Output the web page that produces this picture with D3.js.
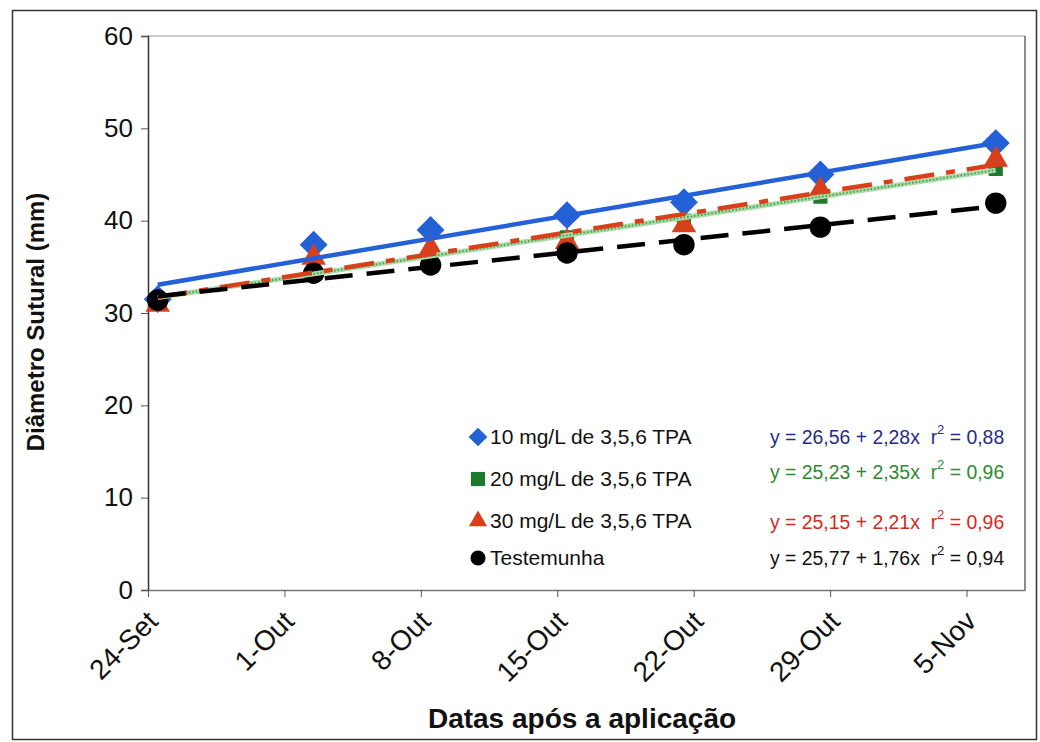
<!DOCTYPE html>
<html>
<head>
<meta charset="utf-8">
<script src="https://cdn.jsdelivr.net/npm/d3@7"></script>
<style>
  body { margin: 0; background: #fff; }
  text { font-family: "Liberation Sans", Arial, sans-serif; white-space: pre; }
</style>
</head>
<body>
<svg id="chart" width="1040" height="742"></svg>
<script>
// Dados
const nomesSeries = ["10 mg/L de 3,5,6 TPA", "20 mg/L de 3,5,6 TPA", "30 mg/L de 3,5,6 TPA", "Testemunha"];
const datasAmostra = ["2004-09-24T12:00Z", "2004-10-02T12:00Z", "2004-10-08T12:00Z", "2004-10-15T12:00Z",
                      "2004-10-21T12:00Z", "2004-10-28T12:00Z", "2004-11-06T12:00Z"];
const tpa10 = [31.5, 37.4, 39.0, 40.6, 42.0, 45.0, 48.4];
const tpa20 = [31.2, 35.0, 36.3, 38.2, 40.0, 42.6, 45.6];
const tpa30 = [30.9, 36.0, 37.0, 37.7, 39.5, 43.3, 46.6];
const testemunha = [31.4, 34.3, 35.2, 36.5, 37.4, 39.3, 41.9];

const equacoes = [
    ["y = 26,56 + 2,28x  r", " = 0,88"],
    ["y = 25,23 + 2,35x  r", " = 0,96"],
    ["y = 25,15 + 2,21x  r", " = 0,96"],
    ["y = 25,77 + 1,76x  r", " = 0,94"]
];

const datasTicks = ["2004-09-24", "2004-10-01", "2004-10-08", "2004-10-15", "2004-10-22", "2004-10-29", "2004-11-05"];
const rotulosTicks = ["24-Set", "1-Out", "8-Out", "15-Out", "22-Out", "29-Out", "5-Nov"];
const ticksY = [0, 10, 20, 30, 40, 50, 60];

// Estilos de cada série
const estilos = [
    { valores: tpa10, cor: "#2461d6", corEq: "#1f2d8a", simbolo: "diamante", traco: null },
    { valores: tpa20, cor: "#1d7a2c", corEq: "#2f8a2f", simbolo: "quadrado", traco: "verde" },
    { valores: tpa30, cor: "#d8401c", corEq: "#d42a1e", simbolo: "triangulo", traco: "30,12,9,12" },
    { valores: testemunha, cor: "#000000", corEq: "#111111", simbolo: "circulo", traco: "28,14" }
];

const svg = d3.select("#chart");

// Moldura externa
svg.append("rect")
    .attr("x", 12.5).attr("y", 10.5)
    .attr("width", 1024).attr("height", 729)
    .attr("fill", "none").attr("stroke", "#333").attr("stroke-width", 1.5);

const area = { esquerda: 148, direita: 1025, topo: 36, base: 590 };

const x = d3.scaleUtc()
    .domain([new Date("2004-09-24T00:00Z"), new Date("2004-11-08T00:00Z")])
    .range([area.esquerda, area.direita]);

const y = d3.scaleLinear()
    .domain([0, 60])
    .range([area.base, area.topo]);

// Bordas da área de plotagem
svg.append("line")
    .attr("x1", area.esquerda).attr("x2", area.direita)
    .attr("y1", area.topo).attr("y2", area.topo)
    .attr("stroke", "#999").attr("stroke-width", 1.2);
svg.append("line")
    .attr("x1", area.direita).attr("x2", area.direita)
    .attr("y1", area.topo).attr("y2", area.base)
    .attr("stroke", "#666").attr("stroke-width", 1.5);

// Eixo Y
const eixoY = svg.append("g")
    .attr("transform", `translate(${area.esquerda},0)`)
    .call(d3.axisLeft(y).tickValues(ticksY).tickSize(7).tickPadding(8));
eixoY.select(".domain").attr("stroke", "#333").attr("stroke-width", 1.5);
eixoY.selectAll(".tick line").attr("stroke", "#555");
eixoY.selectAll(".tick text")
    .attr("font-size", 26).attr("fill", "#111")
    .style("font-family", "'Liberation Sans', Arial, sans-serif");

// Eixo X
const eixoX = svg.append("g")
    .attr("transform", `translate(0,${area.base})`)
    .call(d3.axisBottom(x)
        .tickValues(datasTicks.map(d => new Date(d + "T00:00Z")))
        .tickFormat((d, i) => rotulosTicks[i])
        .tickSize(7).tickSizeOuter(0));
eixoX.select(".domain").attr("stroke", "#777").attr("stroke-width", 1.5);
eixoX.selectAll(".tick line").attr("stroke", "#555");
eixoX.selectAll(".tick text")
    .attr("font-size", 28).attr("fill", "#111")
    .attr("text-anchor", "end")
    .attr("x", 0).attr("y", 0).attr("dy", "0.35em")
    .attr("transform", "translate(4,26) rotate(-45)")
    .style("font-family", "'Liberation Sans', Arial, sans-serif");

// Títulos dos eixos
svg.append("text")
    .attr("x", 582).attr("y", 728)
    .attr("text-anchor", "middle")
    .attr("font-size", 28).attr("font-weight", "bold").attr("fill", "#111")
    .text("Datas após a aplicação");

svg.append("text")
    .attr("transform", "translate(44,322) rotate(-90)")
    .attr("text-anchor", "middle")
    .attr("font-size", 24).attr("font-weight", "bold").attr("fill", "#111")
    .text("Diâmetro Sutural (mm)");

// Símbolos
function caminhoSimbolo(tipo, escala) {
    if (tipo === "diamante") return d3.symbol().type(d3.symbolSquare).size(390 * escala)();
    if (tipo === "quadrado") return d3.symbol().type(d3.symbolSquare).size(200 * escala)();
    if (tipo === "triangulo") return d3.symbol().type(d3.symbolTriangle).size(260 * escala)();
    return d3.symbol().type(d3.symbolCircle).size(360 * escala)();
}
function rotacaoSimbolo(tipo) {
    return tipo === "diamante" ? " rotate(45)" : "";
}

const datas = datasAmostra.map(d => new Date(d));

// Marcadores
estilos.forEach(s => {
    svg.append("g").selectAll("path")
        .data(s.valores)
        .enter()
        .append("path")
        .attr("d", caminhoSimbolo(s.simbolo, 1))
        .attr("fill", s.cor)
        .attr("transform", (d, i) => `translate(${x(datas[i])},${y(d)})` + rotacaoSimbolo(s.simbolo));
});

// Linhas de tendência (mínimos quadrados sobre os pontos)
function regressao(valores) {
    const xs = datas.map(d => (d - datas[0]) / 864e5);
    const mx = d3.mean(xs), my = d3.mean(valores);
    let sxy = 0, sxx = 0;
    xs.forEach((xi, i) => { sxy += (xi - mx) * (valores[i] - my); sxx += (xi - mx) * (xi - mx); });
    const b = sxy / sxx, a = my - b * mx;
    return [xs[0], xs[xs.length - 1]].map(xi => ({ data: new Date(+datas[0] + xi * 864e5), valor: a + b * xi }));
}

const linha = d3.line().x(d => x(d.data)).y(d => y(d.valor));

estilos.forEach(s => {
    const pts = regressao(s.valores);
    if (s.traco === "verde") {
        svg.append("path").attr("d", linha(pts))
            .attr("stroke", "#a9dca9").attr("stroke-width", 5).attr("fill", "none");
        svg.append("path").attr("d", linha(pts))
            .attr("stroke", "#4f9e4f").attr("stroke-width", 2)
            .attr("stroke-dasharray", "1.5,2").attr("fill", "none");
    } else {
        svg.append("path").attr("d", linha(pts))
            .attr("stroke", s.cor).attr("stroke-width", 4.5).attr("fill", "none")
            .attr("stroke-dasharray", s.traco);
    }
});

// Legenda e equações
const linhasLegenda = [437, 479, 521, 558];
const linhasEq = [437, 472, 522, 558];
const escalaLegenda = [0.45, 1.0, 0.55, 0.5];

estilos.forEach((s, i) => {
    svg.append("path")
        .attr("d", caminhoSimbolo(s.simbolo, escalaLegenda[i]))
        .attr("fill", s.cor)
        .attr("transform", `translate(478,${linhasLegenda[i]})` + rotacaoSimbolo(s.simbolo));
    svg.append("text")
        .attr("x", 490).attr("y", linhasLegenda[i]).attr("dy", "0.35em")
        .attr("font-size", 21).attr("fill", "#111")
        .text(nomesSeries[i]);

    const eq = svg.append("text")
        .attr("x", 770).attr("y", linhasEq[i]).attr("dy", "0.35em")
        .attr("font-size", 19.4).attr("fill", s.corEq);
    eq.append("tspan").text(equacoes[i][0]);
    eq.append("tspan").attr("font-size", 13).attr("dy", "-0.75em").text("2");
    eq.append("tspan").attr("dy", "0.5em").text(equacoes[i][1]);
});
</script>
</body>
</html>
